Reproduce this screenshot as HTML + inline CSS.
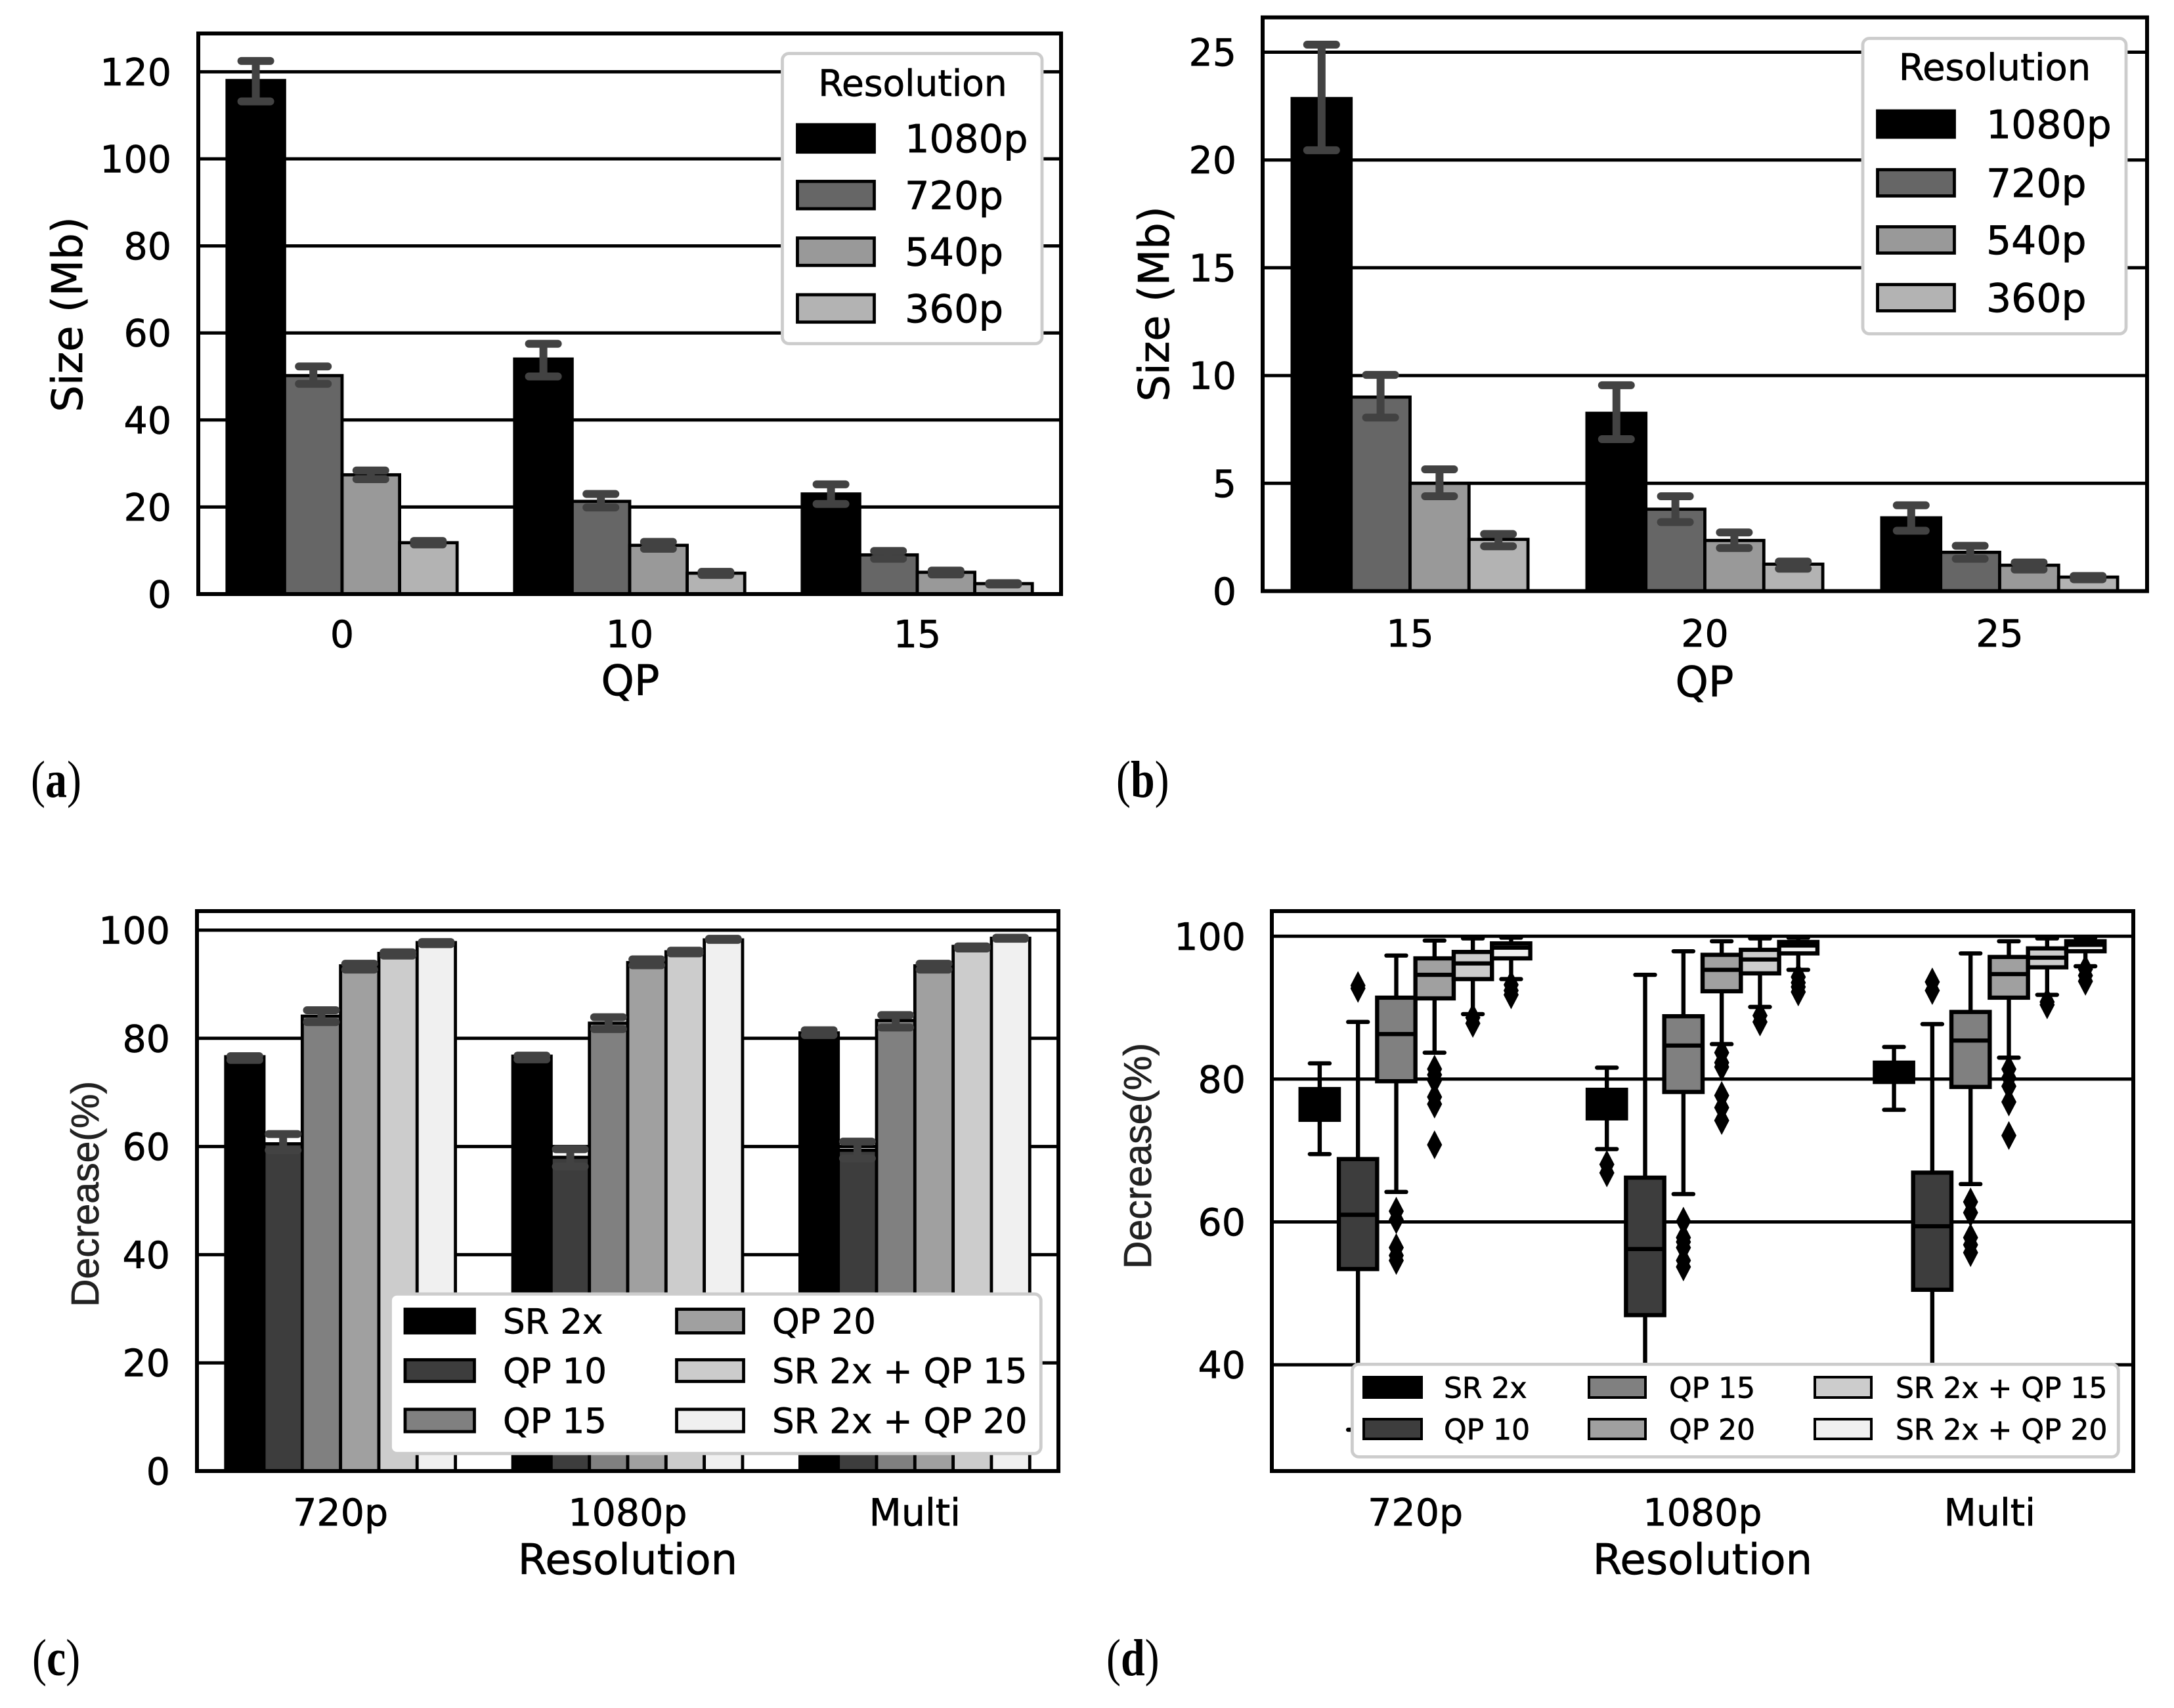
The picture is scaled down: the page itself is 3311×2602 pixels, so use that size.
<!DOCTYPE html>
<html lang="en">
<head>
<meta charset="utf-8">
<title>Size and decrease charts</title>
<style>
html,body{margin:0;padding:0;background:#fff;}
svg{display:block;}
text{font-family:"DejaVu Sans","Liberation Sans",sans-serif;fill:#000;stroke:#000;stroke-width:0.7px;}
.axis-title{font-size:64px;}
.y-sans{font-family:"Liberation Sans",sans-serif;font-size:59px;fill:#222;stroke:#222;}
.panel-label{font-family:"Liberation Serif",serif;font-size:66px;stroke-width:0;}
.panel-label tspan{font-weight:bold;}
</style>
</head>
<body>
<svg id="figure" xmlns="http://www.w3.org/2000/svg" width="3311" height="2602" viewBox="0 0 3311 2602">
  <rect x="0" y="0" width="3311" height="2602" fill="#fff"/>
  <g id="panel-a"></g>
  <g id="panel-b"></g>
  <g id="panel-c"></g>
  <g id="panel-d"></g>

  <text class="axis-title" transform="translate(125,479) rotate(-90)" text-anchor="middle">Size (Mb)</text>
  <text class="axis-title" x="960" y="1059" text-anchor="middle">QP</text>
  <text class="panel-label" transform="translate(47,1214) scale(1,1.2)">(<tspan>a</tspan>)</text>

  <text class="axis-title" transform="translate(1780,463) rotate(-90)" text-anchor="middle">Size (Mb)</text>
  <text class="axis-title" x="2596" y="1061" text-anchor="middle">QP</text>
  <text class="panel-label" transform="translate(1700,1214) scale(1,1.2)">(<tspan>b</tspan>)</text>

  <text class="y-sans" transform="translate(150,1819) rotate(-90)" text-anchor="middle">Decrease(%)</text>
  <text class="axis-title" x="956" y="2398" text-anchor="middle">Resolution</text>
  <text class="panel-label" transform="translate(49,2552) scale(1,1.2)">(<tspan>c</tspan>)</text>

  <text class="y-sans" transform="translate(1753,1761) rotate(-90)" text-anchor="middle">Decrease(%)</text>
  <text class="axis-title" x="2593" y="2398" text-anchor="middle">Resolution</text>
  <text class="panel-label" transform="translate(1685,2552) scale(1,1.2)">(<tspan>d</tspan>)</text>
</svg>

<script>
/* ---------- chart data ---------- */
const resolutionNames = ['1080p', '720p', '540p', '360p'];
const methodNames = ['SR 2x', 'QP 10', 'QP 15', 'QP 20', 'SR 2x + QP 15', 'SR 2x + QP 20'];

const aCategories = ['0', '10', '15'];
const aTicks = [0, 20, 40, 60, 80, 100, 120];
const aValues = [[118, 54, 23], [50.2, 21.3, 9], [27.4, 11.2, 5], [11.8, 4.8, 2.4]];
const aErrHigh = [[122.5, 57.5, 25.2], [52.3, 23, 9.9], [28.4, 12, 5.4], [12.2, 5.1, 2.5]];
const aErrLow = [[113.2, 50, 20.7], [48.3, 19.9, 8.1], [26.4, 10.4, 4.5], [11.4, 4.4, 2.2]];

const bCategories = ['15', '20', '25'];
const bTicks = [0, 5, 10, 15, 20, 25];
const bValues = [[22.85, 8.25, 3.4], [9, 3.8, 1.8], [5, 2.35, 1.2], [2.4, 1.25, 0.65]];
const bErrHigh = [[25.35, 9.55, 3.98], [10.03, 4.4, 2.1], [5.65, 2.72, 1.33], [2.65, 1.37, 0.7]];
const bErrLow = [[20.45, 7.05, 2.8], [8.05, 3.2, 1.5], [4.4, 2, 1], [2.08, 1.04, 0.55]];

const cCategories = ['720p', '1080p', 'Multi'];
const cTicks = [0, 20, 40, 60, 80, 100];
const cValues = [[76.6, 76.7, 81], [60.5, 58, 59.3], [84.1, 82.8, 83.3], [93.4, 94, 93.4], [95.7, 96, 97], [97.7, 98.2, 98.5]];
const cErrHigh = [[76.7, 76.8, 81.5], [62.3, 59.5, 60.9], [85.2, 83.9, 84.3], [93.8, 94.6, 93.8], [95.9, 96.2, 97], [97.8, 98.4, 98.6]];
const cErrLow = [[76, 76.1, 80.6], [59.3, 56.3, 57.8], [83, 81.7, 82], [92.7, 93.5, 92.7], [95.3, 95.7, 96.6], [97.4, 98.2, 98.4]];

const dCategories = ['720p', '1080p', 'Multi'];
const dTicks = [40, 60, 80, 100];
const dQ1 = [[74.3, 74.5, 79.6], [53.4, 46.95, 50.5], [79.7, 78.2, 78.9], [91.3, 92.3, 91.4], [94, 94.8, 95.65], [96.9, 97.6, 97.9]];
const dMedian = [[76.5, 76.5, 81], [61, 56.2, 59.4], [86.3, 84.7, 85.4], [94.6, 95.3, 94.7], [96.2, 96.75, 97], [98.4, 98.7, 98.8]];
const dQ3 = [[78.6, 78.5, 82.3], [68.8, 66.2, 66.9], [91.4, 88.8, 89.4], [96.9, 97.4, 97.1], [97.8, 98.1, 98.3], [99, 99.2, 99.3]];
const dWhiskerLow = [[69.5, 70.2, 75.7], [30.9, 31, 31], [64.2, 63.9, 65.3], [83.7, 84.9, 83], [89.1, 90.1, 91.8], [94, 95.3, 95.8]];
const dWhiskerHigh = [[82.2, 81.6, 84.5], [88, 94.6, 87.7], [97.3, 97.9, 97.6], [99.4, 99.3, 99.3], [99.7, 99.7, 99.7], [99.8, 99.8, 99.8]];
const dFliers = [
  [[], [68.05, 66.87], []],
  [[93.1, 92.7], [], [93.6, 92.4]],
  [[61.5, 60.3, 56.4, 55.3, 54.6], [60.1, 57.8, 57.2, 56.4, 54.6, 53.7], [62.8, 61.3, 57.8, 56.8, 55.7]],
  [[81.4, 80.6, 79.8, 77.5, 76.5, 70.8], [83.7, 82.3, 81.7, 77.7, 76, 74.2], [81.4, 80.2, 79, 76.8, 72.1]],
  [[88.6, 87.8], [88.9, 88], [90.8, 90.4]],
  [[93.2, 92.4, 91.8], [94.3, 93.5, 92.9, 92.2], [95.4, 94.5, 93.7]]
];

const resolutionFills = ['#000000', '#666666', '#999999', '#b3b3b3'];
const methodFills = ['#000000', '#3d3d3d', '#808080', '#a0a0a0', '#cccccc', '#f0f0f0'];

/* ---------- helpers ---------- */
const SVG_NS = 'http://www.w3.org/2000/svg';
function node(parent, tag, attrs, name, text) {
  const el = document.createElementNS(SVG_NS, tag);
  
  
  for (const k in attrs) el.setAttribute(k, attrs[k]);
  if (text !== undefined) el.textContent = text;
  parent.appendChild(el);
  return el;
}
function makeAxes(f) {
  const unit = (f.right - f.left) / f.cats.length;
  return {
    x: function (cat, seriesIdx, n, groupW) {
      const c = f.left + unit * (cat + 0.5);
      const w = unit * groupW / n;
      return c + (seriesIdx - n / 2 + 0.5) * w;
    },
    bandW: function (n, groupW) { return unit * groupW / n; },
    center: function (cat) { return f.left + unit * (cat + 0.5); },
    y: function (v) { return f.y0 - (v - f.v0) * f.pxPerUnit; }
  };
}
function drawBackdrop(g, f, ax, prefix) {
  f.ticks.forEach(function (t) {
    const y = ax.y(t);
    if (t !== f.v0 || f.gridAtBase) {
      node(g, 'line', { x1: f.left, x2: f.right, y1: y, y2: y, stroke: '#000', 'stroke-width': 5 }, prefix + '-gridline-' + t);
    }
    node(g, 'text', { x: f.tickEnd, y: y + 20.5, 'text-anchor': 'end', 'font-size': 57 }, prefix + '-y-tick-' + t, String(t));
  });
  f.cats.forEach(function (c, i) {
    node(g, 'text', { x: ax.center(i), y: f.xTickBase, 'text-anchor': 'middle', 'font-size': 57 }, prefix + '-x-tick-' + c, c);
  });
}
function drawFrame(g, f, prefix) {
  node(g, 'rect', { x: f.left, y: f.top, width: f.right - f.left, height: f.bottom - f.top, fill: 'none', stroke: '#000', 'stroke-width': 6 }, prefix + '-frame');
}
function drawBars(g, f, ax, prefix, values, high, low, fills, groupW) {
  const n = values.length;
  const w = ax.bandW(n, groupW);
  values.forEach(function (series, s) {
    series.forEach(function (v, c) {
      const xc = ax.x(c, s, n, groupW);
      const yTop = ax.y(v);
      node(g, 'rect', { x: xc - w / 2, y: yTop, width: w, height: f.bottom - yTop, fill: fills[s], stroke: '#000', 'stroke-width': 4.8 }, prefix + '-bar-' + f.cats[c] + '-' + s);
    });
  });
  values.forEach(function (series, s) {
    series.forEach(function (v, c) {
      const xc = ax.x(c, s, n, groupW);
      const yHi = ax.y(high[s][c]);
      const yLo = ax.y(low[s][c]);
      node(g, 'line', { x1: xc, x2: xc, y1: yHi, y2: yLo, stroke: '#424242', 'stroke-width': 12 }, prefix + '-error-stem-' + f.cats[c] + '-' + s);
      node(g, 'line', { x1: xc - 22, x2: xc + 22, y1: yHi, y2: yHi, stroke: '#424242', 'stroke-width': 12, 'stroke-linecap': 'round' }, prefix + '-error-cap-high-' + f.cats[c] + '-' + s);
      node(g, 'line', { x1: xc - 22, x2: xc + 22, y1: yLo, y2: yLo, stroke: '#424242', 'stroke-width': 12, 'stroke-linecap': 'round' }, prefix + '-error-cap-low-' + f.cats[c] + '-' + s);
    });
  });
}
function drawLegend(g, prefix, box, entries) {
  const lg = node(g, 'g', {}, prefix + '-legend');
  node(lg, 'rect', { x: box.x, y: box.y, width: box.w, height: box.h, rx: 10, ry: 10, fill: '#fff', stroke: '#cccccc', 'stroke-width': 4.8 }, prefix + '-legend-box');
  if (box.title) {
    node(lg, 'text', { x: box.titleX, y: box.titleY, 'text-anchor': 'middle', 'font-size': box.titleSize }, prefix + '-legend-title', box.title);
  }
  entries.forEach(function (e) {
    node(lg, 'rect', { x: e.x, y: e.y, width: e.w, height: e.h, fill: e.fill, stroke: '#000', 'stroke-width': box.patchStroke }, prefix + '-legend-swatch-' + e.label.replace(/[^a-zA-Z0-9]+/g, '-').toLowerCase());
    node(lg, 'text', { x: e.tx, y: e.y + e.h / 2 + box.fontSize * 0.36, 'font-size': box.fontSize }, prefix + '-legend-label-' + e.label.replace(/[^a-zA-Z0-9]+/g, '-').toLowerCase(), e.label);
  });
}

/* ---------- panel a ---------- */
(function () {
  const f = { left: 302, right: 1616, top: 51, bottom: 905, y0: 905, v0: 0, pxPerUnit: 6.63, cats: aCategories, ticks: aTicks, tickEnd: 261, xTickBase: 986 };
  const g = document.getElementById('panel-a');
  const ax = makeAxes(f);
  drawBackdrop(g, f, ax, 'panel-a');
  drawBars(g, f, ax, 'panel-a', aValues, aErrHigh, aErrLow, resolutionFills, 0.8);
  drawFrame(g, f, 'panel-a');
  const rows = [190, 276.3, 362.6, 449];
  drawLegend(g, 'panel-a', { x: 1191.5, y: 81.5, w: 395.5, h: 442, title: 'Resolution', titleX: 1390, titleY: 146, titleSize: 55, fontSize: 59, patchStroke: 4.8 },
    resolutionNames.map(function (label, i) { return { label: label, fill: resolutionFills[i], x: 1214.5, w: 117, y: rows[i], h: 41.7, tx: 1378 }; }));
})();

/* ---------- panel b ---------- */
(function () {
  const f = { left: 1923, right: 3270, top: 26.5, bottom: 900.5, y0: 900.5, v0: 0, pxPerUnit: 32.84, cats: bCategories, ticks: bTicks, tickEnd: 1883, xTickBase: 985 };
  const g = document.getElementById('panel-b');
  const ax = makeAxes(f);
  drawBackdrop(g, f, ax, 'panel-b');
  drawBars(g, f, ax, 'panel-b', bValues, bErrHigh, bErrLow, resolutionFills, 0.8);
  drawFrame(g, f, 'panel-b');
  const rows = [169, 258.5, 345.5, 433.5];
  drawLegend(g, 'panel-b', { x: 2837, y: 58.5, w: 401, h: 450, title: 'Resolution', titleX: 3038, titleY: 122, titleSize: 56, fontSize: 60, patchStroke: 4.8 },
    resolutionNames.map(function (label, i) { return { label: label, fill: resolutionFills[i], x: 2859.5, w: 117, y: rows[i], h: 40, tx: 3025 }; }));
})();

/* ---------- panel c ---------- */
(function () {
  const f = { left: 300, right: 1612, top: 1388, bottom: 2241, y0: 2241, v0: 0, pxPerUnit: 8.24, cats: cCategories, ticks: cTicks, tickEnd: 259, xTickBase: 2324 };
  const g = document.getElementById('panel-c');
  const ax = makeAxes(f);
  drawBackdrop(g, f, ax, 'panel-c');
  drawBars(g, f, ax, 'panel-c', cValues, cErrHigh, cErrLow, methodFills, 0.8);
  drawFrame(g, f, 'panel-c');
  const rows = [[1994.5, 36], [2071.5, 33], [2147, 34]];
  drawLegend(g, 'panel-c', { x: 594.5, y: 1971.3, w: 990.8, h: 243, fontSize: 53, patchStroke: 4.8 },
    methodNames.map(function (label, i) {
      const col = i < 3 ? 0 : 1;
      const row = i % 3;
      return { label: label, fill: methodFills[i], x: col ? 1030.5 : 617, w: col ? 102 : 105.5, y: rows[row][0], h: rows[row][1], tx: col ? 1176 : 766 };
    }));
})();

/* ---------- panel d ---------- */
(function () {
  const f = { left: 1937, right: 3249, top: 1388, bottom: 2241, y0: 1426.3, v0: 100, pxPerUnit: 10.88, cats: dCategories, ticks: dTicks, tickEnd: 1897, xTickBase: 2324, gridAtBase: true };
  const g = document.getElementById('panel-d');
  const ax = makeAxes(f);
  drawBackdrop(g, f, ax, 'panel-d');
  const n = methodNames.length;
  const w = ax.bandW(n, 0.8);
  dQ1.forEach(function (series, s) {
    series.forEach(function (q1, c) {
      const xc = ax.x(c, s, n, 0.8);
      const tag = f.cats[c] + '-' + s;
      const yQ1 = ax.y(q1);
      const yQ3 = ax.y(dQ3[s][c]);
      const yMed = ax.y(dMedian[s][c]);
      const yLow = ax.y(dWhiskerLow[s][c]);
      const yHigh = ax.y(dWhiskerHigh[s][c]);
      node(g, 'line', { x1: xc, x2: xc, y1: yHigh, y2: yLow, stroke: '#000', 'stroke-width': 6.4 }, 'panel-d-whisker-' + tag);
      node(g, 'line', { x1: xc - 15, x2: xc + 15, y1: yHigh, y2: yHigh, stroke: '#000', 'stroke-width': 6.4, 'stroke-linecap': 'round' }, 'panel-d-cap-high-' + tag);
      node(g, 'line', { x1: xc - 15, x2: xc + 15, y1: yLow, y2: yLow, stroke: '#000', 'stroke-width': 6.4, 'stroke-linecap': 'round' }, 'panel-d-cap-low-' + tag);
      node(g, 'rect', { x: xc - w / 2, y: yQ3, width: w, height: yQ1 - yQ3, fill: methodFills[s], stroke: '#000', 'stroke-width': 6.4 }, 'panel-d-box-' + tag);
      node(g, 'line', { x1: xc - w / 2, x2: xc + w / 2, y1: yMed, y2: yMed, stroke: '#000', 'stroke-width': 6.4 }, 'panel-d-median-' + tag);
      dFliers[s][c].forEach(function (v, k) {
        const y = ax.y(v);
        const pts = [xc, y - 22, xc + 11.5, y, xc, y + 22, xc - 11.5, y].join(' ');
        node(g, 'polygon', { points: pts, fill: '#000' }, 'panel-d-flier-' + tag + '-' + k);
      });
    });
  });
  drawFrame(g, f, 'panel-d');
  const rows = [2098, 2162];
  const rowH = [31, 30];
  const cols = [[2077, 88, 2199], [2420, 86, 2542], [2764, 86, 2887]];
  drawLegend(g, 'panel-d', { x: 2059.4, y: 2078.4, w: 1166.9, h: 141, fontSize: 44, patchStroke: 4 },
    methodNames.map(function (label, i) {
      const col = Math.floor(i / 2);
      const row = i % 2;
      return { label: label, fill: methodFills[i], x: cols[col][0], w: cols[col][1], y: rows[row], h: rowH[row], tx: cols[col][2] };
    }));
})();
</script>
</body>
</html>
